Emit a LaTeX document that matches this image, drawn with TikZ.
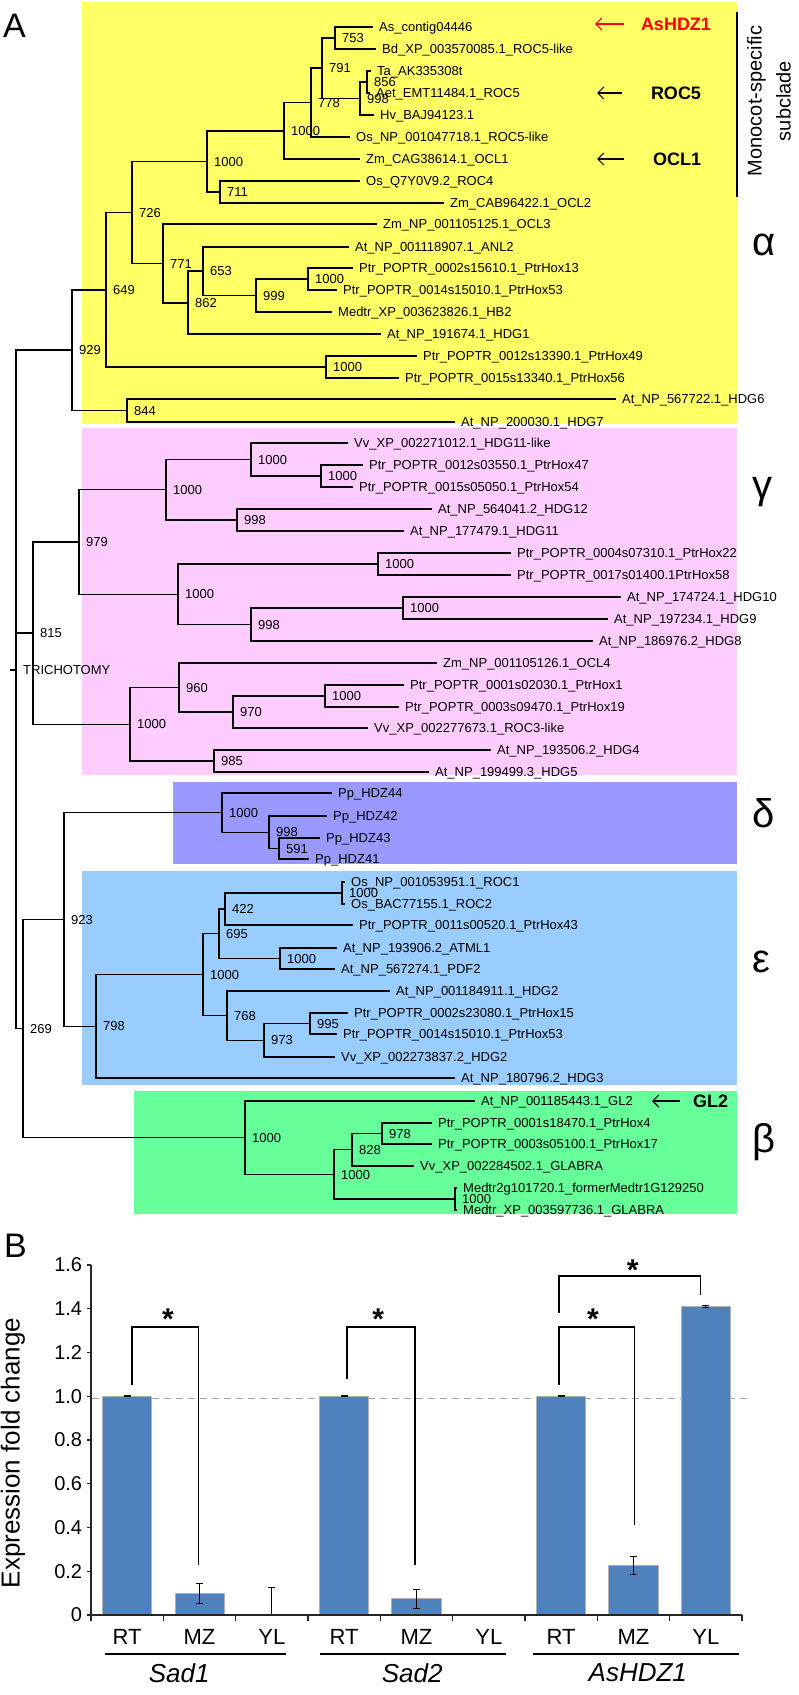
\documentclass[tikz,border=0pt]{standalone}
\usepackage{fontspec}
\setmainfont{Liberation Sans}
\usepackage{tikz}
\usetikzlibrary{arrows.meta}
\definecolor{alphayellow}{RGB}{255,255,102}
\definecolor{gammapink}{RGB}{255,204,255}
\definecolor{deltaviolet}{RGB}{153,153,255}
\definecolor{epsblue}{RGB}{153,204,255}
\definecolor{betagreen}{RGB}{102,255,153}
\definecolor{barblue}{RGB}{79,129,189}

\begin{document}
\begin{tikzpicture}[x=1pt, y=-1pt,
  branch/.style={line width=1.3pt},
  leaf/.style={anchor=west, inner xsep=6pt, inner ysep=0pt, text height=9.3pt, text depth=0pt, font=\fontsize{13}{14}\selectfont},
  boot/.style={anchor=west, inner sep=0pt, xshift=7pt, text height=9.3pt, text depth=0pt, font=\fontsize{13}{14}\selectfont},
  greek/.style={anchor=base west, inner sep=0pt, font=\fontsize{40}{40}\selectfont},
  panel/.style={anchor=base west, inner sep=0pt, font=\fontsize{34}{34}\selectfont},
  callout/.style={inner sep=0pt, font=\fontsize{18}{18}\selectfont\bfseries},
  arr/.style={-{Straight Barb[length=6pt,width=12pt]}, line width=1.2pt}]
\useasboundingbox (0,0) rectangle (799,1695);

% Clade boxes
\fill[alphayellow] (82,2) rectangle (737,424);
\fill[gammapink] (82,428) rectangle (737,775);
\fill[deltaviolet] (173,782) rectangle (737,864);
\fill[epsblue] (82,871) rectangle (737,1085);
\fill[betagreen] (134,1091) rectangle (737,1214);

\node[panel] (labA) at (3,37) {A};

% Root (trichotomy)
\coordinate (root) at (16,670);
\coordinate (rootstub) at (10,670);
\draw[branch] (rootstub) -- (root);
\node[boot] (trich) at (root) {TRICHOTOMY};

% Inner nodes: name/x/y/parent/support (parents first)
\foreach \nm/\xx/\yy/\pa/\lab in {
  n929/72/350/root/929, n649/106/290/n929/649, n844/127/410.5/n929/844,
  n726/132/212.75/n649/726, n1000d/326/367/n649/1000,
  n1000b/207/161.5/n726/1000, n771/163/263.5/n726/771,
  n1000a/284/131/n1000b/1000, n711/220/192/n1000b/711,
  n778/311/102.5/n1000a/778, n791/322/68/n778/791,
  n753/335/38/n791/753, n998a/360/98.5/n791/998, n856/367/82/n998a/856,
  n862/188/303/n771/862, n653/203/271/n862/653,
  n999/256/295.5/n653/999, n1000c/308/279/n999/1000,
  n815/33/633/root/815, n979/79/542/n815/979,
  n1000e/166/489.75/n979/1000, n1000f/251/459.5/n1000e/1000,
  n1000g/321/476/n1000f/1000, n998b/237/520/n1000e/998,
  n1000h/178/594.25/n979/1000, n1000i/378/564/n1000h/1000,
  n998c/251/624.5/n1000h/998, n1000j/403/608/n998c/1000,
  n1000k/130/724.25/n815/1000, n960/179/687.5/n1000k/960,
  n970/233/712/n960/970, n1000l/325/696/n970/1000, n985/214/761/n1000k/985,
  n269/23/1028.6/root/269, n923/64/919.5/n269/923,
  n1000m/222/812.6/n923/1000, n998d/269/832.25/n1000m/998, n591/279/848.5/n998d/591,
  n798/96/1026.3/n923/798, n1000n/203/974.7/n798/1000,
  n695/219/933.75/n1000n/695, n422/225/909/n695/422,
  n1000o/342/893/n422/1000, n1000p/280/958.5/n695/1000,
  n768/227/1015.6/n1000n/768, n973/264/1040.25/n768/973, n995/310/1023.5/n973/995,
  nb1000/245/1137.7/n269/1000, n1000q/334/1174.4/nb1000/1000,
  n828/352/1149.75/n1000q/828, n978/382/1133.5/n828/978, n1000r/455/1199/n1000q/1000}{
  \coordinate (\nm) at (\xx,\yy);
  \draw[branch] (\pa) |- (\nm);
  \node[boot] (b-\nm) at (\nm) {\lab};
}

% Leaves: parent/name/x/y/label
\foreach \pa/\nm/\xx/\yy/\lab in {
  n753/as/373/27/As\_contig04446,
  n753/bd/376/49/Bd\_XP\_003570085.1\_ROC5-like,
  n856/ta/371/71/Ta\_AK335308t,
  n856/aet/370/93/Aet\_EMT11484.1\_ROC5,
  n998a/hv/374/115/Hv\_BAJ94123.1,
  n778/osrocv/350/137/Os\_NP\_001047718.1\_ROC5-like,
  n1000a/ocla/360/159/Zm\_CAG38614.1\_OCL1,
  n711/osrociv/360/181/Os\_Q7Y0V9.2\_ROC4,
  n711/oclb/444/203/Zm\_CAB96422.1\_OCL2,
  n771/oclc/377/224/Zm\_NP\_001105125.1\_OCL3,
  n653/anl2/349/247/At\_NP\_001118907.1\_ANL2,
  n1000c/hox13/353/268/Ptr\_POPTR\_0002s15610.1\_PtrHox13,
  n1000c/hox53a/337/290/Ptr\_POPTR\_0014s15010.1\_PtrHox53,
  n999/hb2/332/312/Medtr\_XP\_003623826.1\_HB2,
  n862/hdg1/381/334/At\_NP\_191674.1\_HDG1,
  n1000d/hox49/417/356/Ptr\_POPTR\_0012s13390.1\_PtrHox49,
  n1000d/hox56/399/378/Ptr\_POPTR\_0015s13340.1\_PtrHox56,
  n844/hdg6/616/399/At\_NP\_567722.1\_HDG6,
  n844/hdg7/455/422/At\_NP\_200030.1\_HDG7,
  n1000f/vvhdg11/348/443/Vv\_XP\_002271012.1\_HDG11-like,
  n1000g/hox47/363/465/Ptr\_POPTR\_0012s03550.1\_PtrHox47,
  n1000g/hox54/353/487/Ptr\_POPTR\_0015s05050.1\_PtrHox54,
  n998b/hdg12/432/509/At\_NP\_564041.2\_HDG12,
  n998b/hdg11/404/531/At\_NP\_177479.1\_HDG11,
  n1000i/hox22/511/553/Ptr\_POPTR\_0004s07310.1\_PtrHox22,
  n1000i/hox58/511/575/Ptr\_POPTR\_0017s01400.1PtrHox58,
  n1000j/hdg10/621/597/At\_NP\_174724.1\_HDG10,
  n1000j/hdg9/608/619/At\_NP\_197234.1\_HDG9,
  n998c/hdg8/593/641/At\_NP\_186976.2\_HDG8,
  n960/ocld/437/663/Zm\_NP\_001105126.1\_OCL4,
  n1000l/hox1/404/685/Ptr\_POPTR\_0001s02030.1\_PtrHox1,
  n1000l/hox19/399/707/Ptr\_POPTR\_0003s09470.1\_PtrHox19,
  n970/roc3/368/728/Vv\_XP\_002277673.1\_ROC3-like,
  n985/hdg4/491/750/At\_NP\_193506.2\_HDG4,
  n985/hdg5/429/772/At\_NP\_199499.3\_HDG5,
  n1000m/hdz44/332/793/Pp\_HDZ44,
  n998d/hdz42/327/816/Pp\_HDZ42,
  n591/hdz43/320/838/Pp\_HDZ43,
  n591/hdz41/309/859/Pp\_HDZ41,
  n1000o/roc1/345/882/Os\_NP\_001053951.1\_ROC1,
  n1000o/roc2/345/904/Os\_BAC77155.1\_ROC2,
  n422/hox43/353/925/Ptr\_POPTR\_0011s00520.1\_PtrHox43,
  n1000p/atml1/337/948/At\_NP\_193906.2\_ATML1,
  n1000p/pdf2/335/969/At\_NP\_567274.1\_PDF2,
  n768/hdg2/390/991/At\_NP\_001184911.1\_HDG2,
  n995/hox15/348/1013/Ptr\_POPTR\_0002s23080.1\_PtrHox15,
  n995/hox53b/337/1034/Ptr\_POPTR\_0014s15010.1\_PtrHox53,
  n973/vvhdg2/335/1057/Vv\_XP\_002273837.2\_HDG2,
  n798/hdg3/455/1078/At\_NP\_180796.2\_HDG3,
  nb1000/gl2/475/1101/At\_NP\_001185443.1\_GL2,
  n978/hox4/432/1123/Ptr\_POPTR\_0001s18470.1\_PtrHox4,
  n978/hox17/432/1144/Ptr\_POPTR\_0003s05100.1\_PtrHox17,
  n828/glabra/414/1166/Vv\_XP\_002284502.1\_GLABRA,
  n1000r/medtra/457/1188/Medtr2g101720.1\_formerMedtr1G129250,
  n1000r/medtrb/457/1210/Medtr\_XP\_003597736.1\_GLABRA}{
  \node[leaf] (\nm) at (\xx,\yy) {\lab};
  \draw[branch] (\pa) |- (\nm.west);
}

% Call-outs
\node[callout, red] (hdz) at (676,24) {AsHDZ1};
\node[callout] (roc5) at (676,93) {ROC5};
\node[callout] (ocl1) at (677,159) {OCL1};
\node[callout, anchor=west] (gltwo) at (693,1101) {GL2};
\coordinate (hdztip) at (595,24);
\coordinate (roctip) at (597,93);
\coordinate (ocltip) at (597,159);
\coordinate (gltip) at (652,1101);
\draw[arr, red, shorten <=17pt] (hdz.west) -- (hdztip);
\draw[arr, shorten <=29pt] (roc5.west) -- (roctip);
\draw[arr, shorten <=29pt] (ocl1.west) -- (ocltip);
\draw[arr, shorten <=13pt] (gltwo.west) -- (gltip);

% Monocot-specific subclade
\coordinate (monotop) at (737,12);
\coordinate (monobot) at (737,197);
\draw[line width=2.5pt] (monotop) -- (monobot);
\node[rotate=90, align=center, inner sep=0pt, font=\fontsize{20}{29}\selectfont] (mono) at (769,101) {Monocot-specific\\subclade};

% Clade letters
\node[greek] (alpha) at (752,255) {α};
\node[greek] (gamma) at (752,498) {γ};
\node[greek] (delta) at (752,827) {δ};
\node[greek] (eps) at (752,972) {ε};
\node[greek] (beta) at (752,1152) {β};

% Panel B
\node[panel] (labB) at (4,1257) {B};
\node[rotate=90, inner sep=0pt, font=\fontsize{26}{26}\selectfont] (ytitle) at (13,1453) {Expression fold change};
\begin{scope}[shift={(91pt,-1615pt)}, x=72.33pt, y=218.75pt,
  bar/.style={fill=barblue, draw=black!30, line width=0.8pt},
  err/.style={line width=1pt},
  sig/.style={line width=1.3pt},
  axis/.style={line width=1.3pt, black!85},
  ytick/.style={anchor=east, inner sep=0pt, font=\fontsize{20}{20}\selectfont},
  tissue/.style={inner sep=0pt, font=\fontsize{22}{22}\selectfont},
  gene/.style={inner sep=0pt, font=\fontsize{26}{26}\selectfont\itshape},
  star/.style={anchor=base, inner sep=0pt, font=\fontsize{30}{30}\selectfont\bfseries}]
  % dashed line at 1.0
  \draw[black!35, line width=1.4pt, dash pattern=on 7pt off 5pt] (0.01,0.99) -- (9.07,0.99);
  % bars
  \foreach \k/\v in {0/1.0,1/0.1,3/1.0,4/0.075,6/1.0,7/0.225,8/1.41}
    \draw[bar] (\k+0.16,0) rectangle (\k+0.84,\v);
  % error bars
  \foreach \k/\v/\e in {0/1.0/0.003,1/0.1/0.046,3/1.0/0.003,4/0.075/0.043,6/1.0/0.003,7/0.225/0.041,8/1.41/0.003}{
    \draw[err] (\k+0.5,\v-\e) -- (\k+0.5,\v+\e);
    \draw[err] (\k+0.45,\v+\e) -- (\k+0.55,\v+\e);
    \draw[err] (\k+0.45,\v-\e) -- (\k+0.55,\v-\e);
  }
  \draw[err] (2.5,0) -- (2.5,0.125);
  \draw[err] (2.45,0.125) -- (2.55,0.125);
  % axes
  \draw[axis] (0,1.6) -- (0,0) -- (9,0);
  \foreach \v/\s in {0/0,0.2/0.2,0.4/0.4,0.6/0.6,0.8/0.8,1.0/1.0,1.2/1.2,1.4/1.4,1.6/1.6}{
    \draw[axis] (0,\v) -- (-0.055,\v);
    \node[ytick] (tick-\s) at (-0.12,\v) {\s};
  }
  \foreach \k in {0,...,9}
    \draw[axis] (\k,0) -- (\k,-0.028);
  % tissues
  \foreach \k/\s in {0/RT,1/MZ,2/YL,3/RT,4/MZ,5/YL,6/RT,7/MZ,8/YL}
    \node[tissue] (tis-\k) at (\k+0.5,-0.1) {\s};
  % genes
  \draw[line width=1.8pt] (0.19,-0.178) -- (2.70,-0.178);
  \draw[line width=1.8pt] (3.17,-0.178) -- (5.74,-0.178);
  \draw[line width=1.8pt] (6.11,-0.178) -- (8.96,-0.178);
  \node[gene] (sadone) at (1.22,-0.265) {Sad1};
  \node[gene] (sadtwo) at (4.44,-0.265) {Sad2};
  \node[gene] (hdzgene) at (7.56,-0.265) {AsHDZ1};
  % significance
  \draw[sig] (0.567,1.051) -- (0.567,1.317) -- (1.49,1.317) -- (1.49,0.229);
  \draw[sig] (3.54,1.079) -- (3.54,1.317) -- (4.48,1.317) -- (4.48,0.229);
  \draw[sig] (6.47,1.051) -- (6.47,1.317) -- (7.51,1.317) -- (7.51,0.411);
  \draw[sig] (6.47,1.38) -- (6.47,1.55) -- (8.43,1.55) -- (8.43,1.463);
  \node[star] (stara) at (1.065,1.303) {*};
  \node[star] (starb) at (3.97,1.303) {*};
  \node[star] (starc) at (6.94,1.303) {*};
  \node[star] (stard) at (7.49,1.527) {*};
\end{scope}
\end{tikzpicture}
\end{document}
